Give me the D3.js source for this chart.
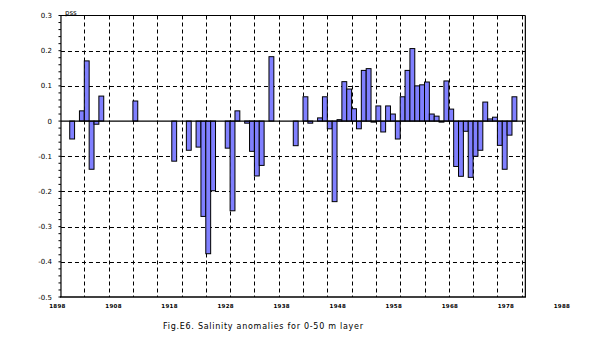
<!DOCTYPE html>
<html><head><meta charset="utf-8">
<script src="https://cdn.jsdelivr.net/npm/d3@7"></script>
<style>body{margin:0;background:#fff}svg{display:block}</style>
</head><body>
<svg id="c" width="600" height="355"></svg>
<script>
const years = [1902,1904,1905,1906,1907,1908,1915,1923,1926,1928,1929,1930,1931,1934,1935,1936,1938,1939,1940,1941,1943,1948,1950,1951,
 1953,1954,1955,1956,1957,1958,1959,1960,1961,1962,1963,1964,1965,1966,1967,1968,1969,1970,1971,1972,1973,1974,1975,1976,1977,1978,1979,1980,
 1981,1982,1983,1984,1985,1986,1987,1988,1989,1990,1991,1992,1993];
const values = [-0.051,0.029,0.171,-0.137,-0.009,0.071,0.057,-0.114,-0.083,-0.074,-0.271,-0.377,-0.198,-0.077,-0.255,0.029,-0.006,-0.086,-0.156,-0.126,0.183,-0.07,0.069,-0.006,
 0.009,0.069,-0.022,-0.229,0.004,0.112,0.091,0.035,-0.022,0.144,0.149,-0.003,0.043,-0.031,0.043,0.02,-0.051,0.069,0.144,0.206,0.1,0.103,0.111,0.02,0.014,-0.003,0.114,0.034,
 -0.129,-0.157,-0.029,-0.16,-0.1,-0.083,0.054,0.006,0.011,-0.069,-0.137,-0.04,0.069];
const yTicks = [0.3,0.2,0.1,0,-0.1,-0.2,-0.3,-0.4,-0.5];
const gridYears = [1905,1910,1915,1920,1925,1930,1935,1940,1945,1950,1955,1960,1965,1970,1975,1980,1985,1990,1995];
const xTickLabels = ["1898","1908","1918","1928","1938","1948","1958","1968","1978","1988"];
const unitLabel = "pss";
const caption = "Fig.E6. Salinity anomalies for 0-50 m layer";

const svg = d3.select("#c");
const x = d3.scaleLinear().domain([1905,1995]).range([84.3,521.7]);
const y = d3.scaleLinear().domain([-0.5,0.3]).range([297,15.5]);
const xLab = d3.scaleLinear().domain([1898,1988]).range([57.5,562]);
const xLeft = x(1900.2), xRight = x(1995.75);
const crisp = v => Math.round(v) + 0.5;

const barData = years.map((yr,i)=>({yr, v:values[i]}));

// grid (dashed, drawn first so bars sit over it)
const gridG = svg.append("g").attr("class","grid");
gridG.selectAll("line.v").data(gridYears).join("line").attr("class","v")
  .attr("x1", d=>crisp(x(d))).attr("x2", d=>crisp(x(d)))
  .attr("y1", y(0.3)).attr("y2", y(-0.5))
  .style("stroke","#000").style("stroke-width","1px").style("stroke-dasharray","4px,3px");
gridG.selectAll("line.h").data(yTicks.filter(d=>d<0.3 && d>-0.5 && d!==0)).join("line").attr("class","h")
  .attr("x1", xLeft).attr("x2", xRight)
  .attr("y1", d=>crisp(y(d))).attr("y2", d=>crisp(y(d)))
  .style("stroke","#000").style("stroke-width","1px").style("stroke-dasharray","4px,3px");

// bars
svg.append("g").attr("class","bars").selectAll("rect").data(barData).join("rect")
  .attr("x", d=>x(d.yr)).attr("width", d=>x(d.yr+1)-x(d.yr))
  .attr("y", d=>y(Math.max(0,d.v))).attr("height", d=>Math.abs(y(d.v)-y(0)))
  .attr("fill","#8080ff").attr("stroke","#000").attr("stroke-width",1);

// zero line and frame
svg.append("line").attr("x1",xLeft).attr("x2",xRight).attr("y1",y(0)).attr("y2",y(0))
  .attr("stroke","#000").attr("stroke-width",1.2);
svg.append("line").attr("x1",xLeft).attr("x2",xRight).attr("y1",y(0.3)).attr("y2",y(0.3)).attr("stroke","#000").attr("stroke-width",1.2);
svg.append("line").attr("x1",xRight).attr("x2",xRight).attr("y1",y(0.3)).attr("y2",y(-0.5)).attr("stroke","#000").attr("stroke-width",1.2);
svg.append("line").attr("x1",xLeft).attr("x2",xLeft).attr("y1",y(0.3)).attr("y2",y(-0.5)).attr("stroke","#000").attr("stroke-width",1.2);
svg.append("line").attr("x1",xLeft-1).attr("x2",xRight+0.6).attr("y1",y(-0.5)).attr("y2",y(-0.5)).attr("stroke","#000").attr("stroke-width",1.6);

// left axis ticks and labels
const minor = d3.range(-0.5, 0.3001, 0.02);
svg.append("g").selectAll("line").data(minor).join("line")
  .attr("x1", xLeft-2.5).attr("x2", xLeft).attr("y1", d=>y(d)).attr("y2", d=>y(d))
  .attr("stroke","#000").attr("stroke-width",1);
svg.append("g").selectAll("text").data(yTicks).join("text")
  .attr("x", 52).attr("y", d=>y(d)+2.5).attr("text-anchor","end")
  .attr("font-family","DejaVu Sans, sans-serif").attr("font-size",7)
  .text(d=> d===0 ? "0" : d.toFixed(1));

// x labels
svg.append("g").selectAll("text").data(xTickLabels).join("text")
  .attr("x", d=>xLab(+d)).attr("y", 307.5).attr("text-anchor","middle")
  .attr("font-family","DejaVu Sans, sans-serif").attr("font-size",5.5).attr("font-weight","bold")
  .attr("letter-spacing",0.3)
  .text(d=>d);

svg.append("text").attr("x",65).attr("y",15).attr("font-family","DejaVu Sans, sans-serif")
  .attr("font-size",7).text(unitLabel);

svg.append("text").attr("x",163).attr("y",329).attr("font-family","DejaVu Sans, sans-serif")
  .attr("font-size",8).attr("textLength",200).attr("lengthAdjust","spacing").text(caption);
</script>
</body></html>
